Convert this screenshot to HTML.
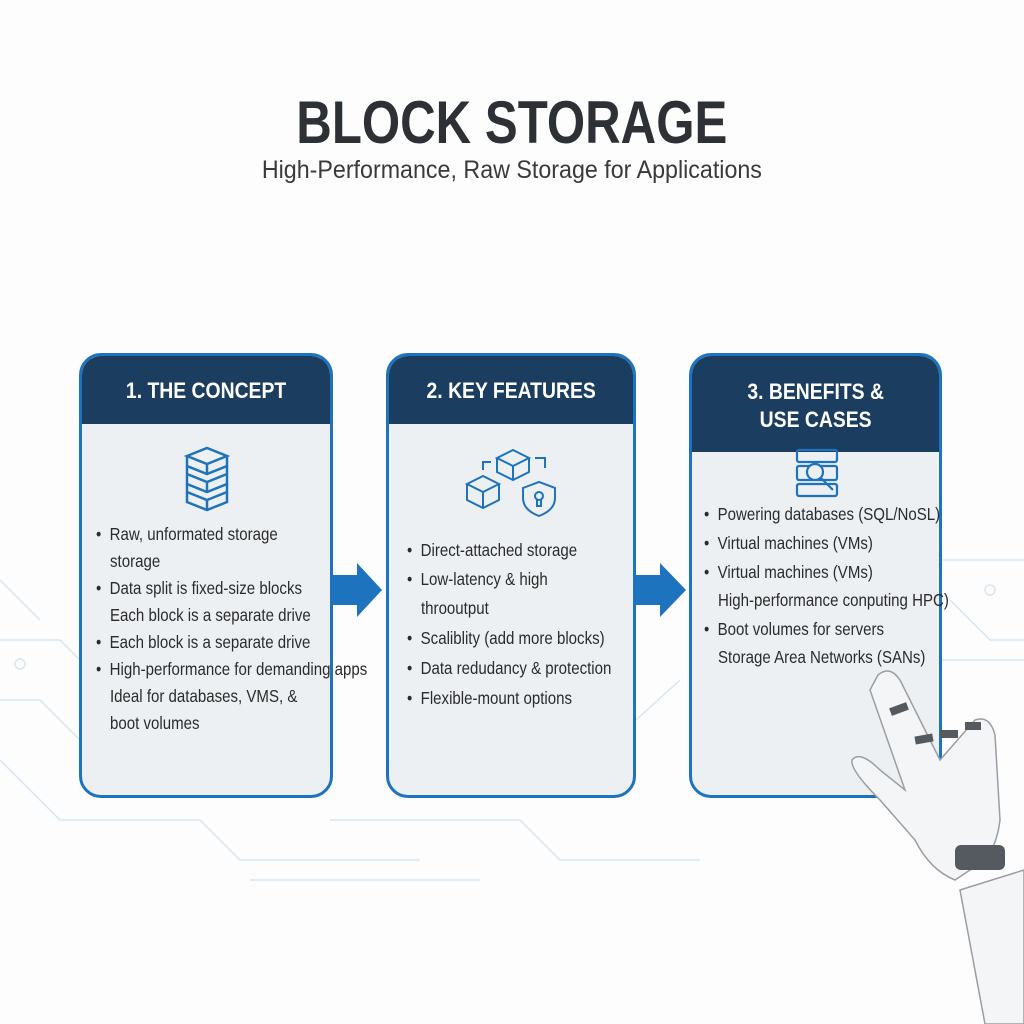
<!DOCTYPE html>
<html><head><style>
body{margin:0;width:1024px;height:1024px;background:#fdfdfe;position:relative;overflow:hidden;font-family:"Liberation Sans",sans-serif;}
.t{position:absolute;left:0;width:1024px;text-align:center;}
.card{position:absolute;top:353px;height:445px;border:3px solid #1e73be;border-radius:22px;background:#edf0f3;box-sizing:border-box;}
.hd{background:#1b3d5f;color:#fff;font-weight:bold;font-size:22px;text-align:center;line-height:28px;border-radius:19px 19px 0 0;}
.hd span{display:inline-block;transform:scaleX(0.88);}
.ln{position:absolute;font-size:17.5px;color:#2b2b2b;white-space:nowrap;transform:scaleX(0.86);transform-origin:0 0;}
</style></head><body>
<svg style="position:absolute;left:0;top:0" width="1024" height="1024">
<g stroke="#d6e6f2" stroke-width="1.5" fill="none">
<path d="M0 640 H60 L90 670 H100"/><path d="M0 700 H40 L80 740"/><path d="M0 760 L60 820 H200 L240 860 H420"/>
<path d="M330 820 H520 L560 860 H700"/><path d="M250 880 H480"/><path d="M0 580 L40 620"/>
<path d="M940 560 H1024"/><path d="M950 600 L990 640 H1024"/><path d="M940 660 H1024"/><path d="M636 720 L680 680"/>
<circle cx="20" cy="664" r="5"/><circle cx="990" cy="590" r="5"/>
</g>
<path d="M333 575 H357 V563 L382 590 L357 617 V605 H333 Z" fill="#1e73be"/>
<path d="M636 575 H660 V563 L686 590 L660 617 V605 H636 Z" fill="#1e73be"/>
</svg>
<div class="t" style="top:88px;font-size:60px;font-weight:bold;color:#2d3035;"><span style="display:inline-block;transform:scaleX(0.82)">BLOCK STORAGE</span></div>
<div class="t" style="top:156px;font-size:25px;color:#3a3a3a;"><span style="display:inline-block;transform:scaleX(0.93)">High-Performance, Raw Storage for Applications</span></div>

<div class="card" style="left:79px;width:254px;">
<div class="hd" style="height:68px;line-height:70px;"><span>1. THE CONCEPT</span></div>
<svg style="position:absolute;left:102px;top:90px" width="46" height="66"><g fill="none" stroke="#1e73be" stroke-width="2.5">
<path d="M3 10 L23 2 L43 10 L23 18Z M3 10 V20 L23 28 L43 20 V10 M23 18 V28"/>
<path d="M3 28 L23 36 L43 28 M3 20 V38 L23 46 L43 38 V20 M23 36 V46"/>
<path d="M3 46 L23 54 L43 46 M3 38 V56 L23 64 L43 56 V38 M23 54 V64"/></g></svg>
<div class="ln" style="left:14px;top:168px;">•&nbsp; Raw, unformated storage</div>
<div class="ln" style="left:28px;top:195px;">storage</div>
<div class="ln" style="left:14px;top:222px;">•&nbsp; Data split is fixed-size blocks</div>
<div class="ln" style="left:28px;top:249px;">Each block is a separate drive</div>
<div class="ln" style="left:14px;top:276px;">•&nbsp; Each block is a separate drive</div>
<div class="ln" style="left:14px;top:303px;">•&nbsp; High-performance for demanding apps</div>
<div class="ln" style="left:28px;top:330px;">Ideal for databases, VMS, &amp;</div>
<div class="ln" style="left:28px;top:357px;">boot volumes</div>
</div>

<div class="card" style="left:386px;width:250px;">
<div class="hd" style="height:68px;line-height:70px;"><span>2. KEY FEATURES</span></div>
<svg style="position:absolute;left:76px;top:88px" width="96" height="74"><g fill="none" stroke="#1e73be" stroke-width="2">
<path d="M32 14 L48 6 L64 14 L48 22Z M32 14 V28 L48 36 L64 28 V14 M48 22 V36"/>
<path d="M2 40 L18 32 L34 40 L18 48Z M2 40 V56 L18 64 L34 56 V40 M18 48 V64"/>
<path d="M58 44 L74 38 L90 44 V54 Q90 66 74 72 Q58 66 58 54Z"/><circle cx="74" cy="52" r="4"/><path d="M72 55 V62 H76 V55"/>
<path d="M18 26 V18 H26 M70 14 H80 V24"/></g></svg>
<div class="ln" style="left:18px;top:184px;">•&nbsp; Direct-attached storage</div>
<div class="ln" style="left:18px;top:213px;">•&nbsp; Low-latency &amp; high</div>
<div class="ln" style="left:32px;top:242px;">throoutput</div>
<div class="ln" style="left:18px;top:272px;">•&nbsp; Scaliblity (add more blocks)</div>
<div class="ln" style="left:18px;top:302px;">•&nbsp; Data redudancy &amp; protection</div>
<div class="ln" style="left:18px;top:332px;">•&nbsp; Flexible-mount options</div>
</div>

<div class="card" style="left:689px;width:253px;">
<div class="hd" style="height:96px;padding-top:22px;box-sizing:border-box;"><span>3. BENEFITS &amp;<br>USE CASES</span></div>
<svg style="position:absolute;left:103px;top:92px" width="46" height="52"><g fill="none" stroke="#1e73be" stroke-width="2.2">
<rect x="2" y="2" width="40" height="12" rx="2"/><rect x="2" y="18" width="40" height="14" rx="2"/><rect x="2" y="36" width="40" height="12" rx="2"/>
<circle cx="20" cy="24" r="8" fill="#edf0f3"/><path d="M26 30 L38 42"/></g></svg>
<div class="ln" style="left:12px;top:148px;">•&nbsp; Powering databases (SQL/NoSL)</div>
<div class="ln" style="left:12px;top:177px;">•&nbsp; Virtual machines (VMs)</div>
<div class="ln" style="left:12px;top:206px;">•&nbsp; Virtual machines (VMs)</div>
<div class="ln" style="left:26px;top:234px;">High-performance conputing HPC)</div>
<div class="ln" style="left:12px;top:263px;">•&nbsp; Boot volumes for servers</div>
<div class="ln" style="left:26px;top:291px;">Storage Area Networks (SANs)</div>
</div>

<svg style="position:absolute;left:0;top:0" width="1024" height="1024">
<g fill="#f4f5f6" stroke="#9a9ea3" stroke-width="1.5">
<path d="M960 890 L1024 870 V1024 H985 Z"/>
<path d="M878 675 Q890 665 900 680 L940 760 L975 720 Q990 715 995 735 L1000 820 Q995 860 970 870 L955 880 Q930 870 915 840 L880 800 Q850 770 852 760 Q860 750 880 770 L905 790 L870 690 Z"/>
</g>
<g fill="#555a60">
<rect x="955" y="845" width="50" height="25" rx="6"/>
<rect x="890" y="705" width="18" height="8" transform="rotate(-20 899 709)"/>
<rect x="915" y="735" width="18" height="8" transform="rotate(-10 924 739)"/>
<rect x="940" y="730" width="18" height="8"/><rect x="965" y="722" width="16" height="8"/>
</g>
</svg>
</body></html>
